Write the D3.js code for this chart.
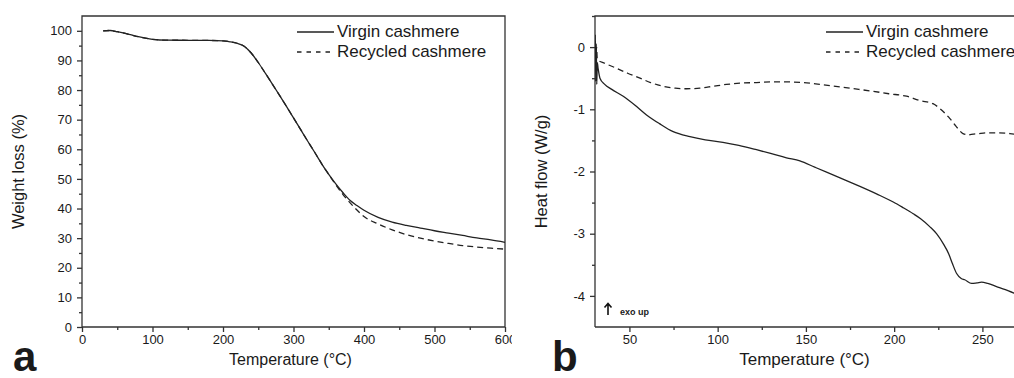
<!DOCTYPE html>
<meta charset="utf-8">
<title>Cashmere TGA / DSC</title>
<style>
  body { margin: 0; background: #fff; }
  svg text { font-family: 'Liberation Sans', Arial, sans-serif; fill: #1a1a1a; }
  .axis path, .axis line, .frame { stroke: #333; stroke-width: 1.3px; fill: none; }
  .axis text { font-size: 13px; }
  .curve { fill: none; stroke: #222; stroke-width: 1.3px; }
  .dashed { stroke-dasharray: 6,4; }
</style>
<body>

<script src="https://cdn.jsdelivr.net/npm/d3@7/dist/d3.min.js"></script>

<script>

// ---- panel a : weight loss (TGA) ----
var tgaTemp = [30, 40, 50, 60, 70, 80, 90, 100, 110, 120, 150, 180, 200, 210, 220, 230, 240, 250, 260, 270,
  280, 290, 300, 310, 320, 330, 340, 350, 360, 370, 380, 390, 400, 420, 440, 460, 480, 500, 520, 540, 560, 580, 600];
var tgaVirgin = [100, 100.1, 99.7, 99.2, 98.6, 98.0, 97.5, 97.1, 96.9, 96.85, 96.8, 96.75, 96.6, 96.3, 95.8, 94.8, 92.5, 89.3, 85.7, 82.0,
  78.3, 74.5, 70.6, 66.7, 62.8, 59.0, 55.1, 51.5, 48.3, 45.4, 42.8, 41.0, 39.4, 37.0, 35.4, 34.3, 33.4, 32.5, 31.7, 30.9, 30.1, 29.4, 28.6];
var tgaRecycled = [100, 100.1, 99.7, 99.2, 98.6, 98.0, 97.5, 97.1, 96.9, 96.85, 96.8, 96.75, 96.6, 96.3, 95.8, 94.8, 92.5, 89.3, 85.7, 82.0,
  78.3, 74.5, 70.6, 66.7, 62.8, 59.0, 55.1, 51.5, 48.0, 44.8, 42.0, 39.5, 37.3, 34.8, 32.8, 31.2, 30.0, 29.0, 28.2, 27.5, 27.0, 26.6, 26.3];

var tgaXTicks = [0, 100, 200, 300, 400, 500, 600];
var tgaXMinor = [50, 150, 250, 350, 450, 550];
var tgaYTicks = [0, 10, 20, 30, 40, 50, 60, 70, 80, 90, 100];
var tgaYMinor = [5, 15, 25, 35, 45, 55, 65, 75, 85, 95];

// ---- panel b : heat flow (DSC) ----
var dscVirginTemp = [30.6, 30.9, 31.2, 31.5, 31.8, 32.3, 33.3, 36, 40, 46.5, 53, 59.7, 67, 74.8, 84.3, 93, 103, 112, 122, 130,
  139, 146.6, 155, 161.7, 170, 180.6, 190, 199.5, 205, 210.8, 215, 220.3, 224, 227.8, 231, 233, 235.4, 238, 240, 243.9,
  247, 249.5, 253, 258, 263, 267.5, 270];
var dscVirgin = [0.2, -0.55, 0.05, -0.6, -0.25, -0.35, -0.5, -0.6, -0.68, -0.79, -0.93, -1.09, -1.23, -1.36, -1.44, -1.49, -1.53, -1.58, -1.65, -1.71,
  -1.78, -1.83, -1.93, -2.01, -2.11, -2.24, -2.36, -2.49, -2.58, -2.68, -2.76, -2.89, -3.0, -3.16, -3.33, -3.48, -3.64, -3.72, -3.74, -3.80,
  -3.79, -3.78, -3.80, -3.85, -3.90, -3.95, -3.97];
var dscRecycledTemp = [30.6, 31.0, 31.4, 31.8, 36, 42.7, 49, 56, 62, 69.2, 76, 82.4, 90, 97.5, 105, 112.6, 122, 131.5, 140, 148.5,
  158, 169.3, 180, 188, 197, 207, 214.6, 222, 226, 229, 231.6, 235, 239, 242, 244.8, 248, 252.4, 258, 265.6, 270];
var dscRecycled = [0.1, -0.15, 0.0, -0.2, -0.26, -0.34, -0.42, -0.5, -0.57, -0.63, -0.66, -0.67, -0.66, -0.63, -0.6, -0.58, -0.57, -0.56, -0.56, -0.57,
  -0.6, -0.64, -0.68, -0.71, -0.75, -0.79, -0.86, -0.91, -0.99, -1.07, -1.15, -1.27, -1.39, -1.41, -1.40, -1.39, -1.38, -1.38, -1.39, -1.41];

var dscXTicks = [50, 100, 150, 200, 250];
var dscXMinor = [75, 125, 175, 225];
var dscYTicks = [0, -1, -2, -3, -4];
var dscYMinor = [0.5, -0.5, -1.5, -2.5, -3.5];

var seriesNames = ['Virgin cashmere', 'Recycled cashmere'];

var svg = d3.select('body').append('svg').attr('width', 1014).attr('height', 378);

var top0 = 16, bottom0 = 327;

function zip(xs, ys) {
  return xs.map(function(v, i) { return [v, ys[i]]; });
}

function drawPanel(opt) {
  var g = svg.append('g');
  if (opt.clip) {
    svg.append('clipPath').attr('id', opt.id + '-clip')
      .append('rect').attr('x', opt.clip[0]).attr('y', 0).attr('width', opt.clip[1] - opt.clip[0]).attr('height', 378);
    g.attr('clip-path', 'url(#' + opt.id + '-clip)');
  }
  var x = opt.x, y = opt.y;
  var x0 = x.range()[0], x1 = x.range()[1];

  // plot-area clip for curves
  svg.append('clipPath').attr('id', opt.id + '-plot')
    .append('rect').attr('x', x0).attr('y', top0).attr('width', x1 - x0).attr('height', bottom0 - top0);

  // minor ticks
  g.append('g').attr('class', 'axis').attr('transform', 'translate(0,' + bottom0 + ')')
    .call(d3.axisBottom(x).tickValues(opt.xMinor).tickSize(3).tickSizeOuter(0).tickFormat(''));
  g.append('g').attr('class', 'axis').attr('transform', 'translate(' + x0 + ',0)')
    .call(d3.axisLeft(y).tickValues(opt.yMinor).tickSize(3).tickSizeOuter(0).tickFormat(''));

  // major ticks
  g.append('g').attr('class', 'axis').attr('transform', 'translate(0,' + bottom0 + ')')
    .call(d3.axisBottom(x).tickValues(opt.xTicks).tickSize(5).tickPadding(3).tickSizeOuter(0)
      .tickFormat(function(d) { return String(d); }));
  g.append('g').attr('class', 'axis').attr('transform', 'translate(' + x0 + ',0)')
    .call(d3.axisLeft(y).tickValues(opt.yTicks).tickSize(5).tickPadding(5).tickSizeOuter(0)
      .tickFormat(function(d) { return String(d); }));

  g.selectAll('.axis .domain').remove();

  // frame
  g.append('path').attr('class', 'frame')
    .attr('d', 'M' + x0 + ',' + bottom0 + 'V' + top0 + 'H' + x1 + 'V' + bottom0 + 'H' + x0);

  // curves
  var line = d3.line()
    .x(function(d) { return x(d[0]); })
    .y(function(d) { return y(d[1]); })
    .curve(d3.curveMonotoneX);

  var curves = g.append('g').attr('clip-path', 'url(#' + opt.id + '-plot)');
  curves.append('path').attr('class', 'curve dashed').attr('d', line(opt.recycled));
  curves.append('path').attr('class', 'curve').attr('d', line(opt.virgin));

  // legend
  var lg = g.append('g').attr('transform', 'translate(' + opt.legend[0] + ',' + opt.legend[1] + ')');
  seriesNames.forEach(function(name, i) {
    lg.append('line').attr('class', 'curve')
      .attr('x1', 0).attr('x2', 37).attr('y1', i * 20).attr('y2', i * 20)
      .style('stroke-dasharray', i ? '4.5,5' : null);
    lg.append('text').attr('x', 40).attr('y', i * 20).attr('dy', '0.32em')
      .style('font-size', '17px').text(name);
  });

  // axis titles
  g.append('text').attr('x', (x0 + Math.min(x1, 1014)) / 2 + opt.xTitleShift).attr('y', 365)
    .attr('text-anchor', 'middle').style('font-size', opt.xTitleSize).text('Temperature (\u00b0C)');
  g.append('text')
    .attr('transform', 'translate(' + opt.yTitleX + ',' + (top0 + bottom0) / 2 + ') rotate(-90)')
    .attr('text-anchor', 'middle').style('font-size', '16.5px').text(opt.yTitle);

  // panel letter
  svg.append('text').attr('x', opt.letterX).attr('y', 371)
    .style('font-size', '42px').style('font-weight', 'bold').text(opt.letter);

  return g;
}

var xA = d3.scaleLinear().domain([0, 600]).range([82, 505]);
var yA = d3.scaleLinear().domain([0, 105]).range([bottom0, top0]);

drawPanel({
  id: 'a', x: xA, y: yA, clip: [0, 512],
  xTicks: tgaXTicks, xMinor: tgaXMinor, yTicks: tgaYTicks, yMinor: tgaYMinor,
  virgin: zip(tgaTemp, tgaVirgin), recycled: zip(tgaTemp, tgaRecycled),
  legend: [297, 32], yTitle: 'Weight loss (%)', yTitleX: 24, xTitleShift: -3, xTitleSize: '16px',
  letter: 'a', letterX: 13
});

var xB = d3.scaleLinear().domain([30.5, 270]).range([595, 1017.7]);
var yB = d3.scaleLinear().domain([-4.5, 0.5]).range([bottom0, top0]);

var gB = drawPanel({
  id: 'b', x: xB, y: yB,
  xTicks: dscXTicks, xMinor: dscXMinor, yTicks: dscYTicks, yMinor: dscYMinor,
  virgin: zip(dscVirginTemp, dscVirgin), recycled: zip(dscRecycledTemp, dscRecycled),
  legend: [826, 32], yTitle: 'Heat flow (W/g)', yTitleX: 547, xTitleShift: 0, xTitleSize: '17px',
  letter: 'b', letterX: 552
});

// exo up note
var ex = xB.range()[0] + 13, ey = bottom0 - 12;
gB.append('path').attr('d', 'M' + ex + ',' + ey + 'v-11 M' + (ex - 3.5) + ',' + (ey - 7.5) + 'L' + ex + ',' + (ey - 11.5) + 'L' + (ex + 3.5) + ',' + (ey - 7.5))
  .attr('fill', 'none').attr('stroke', '#111').attr('stroke-width', 1.6);
gB.append('text').attr('x', ex + 12).attr('y', ey)
  .style('font-size', '9px').style('font-weight', 'bold').text('exo up');

</script>

</body>
